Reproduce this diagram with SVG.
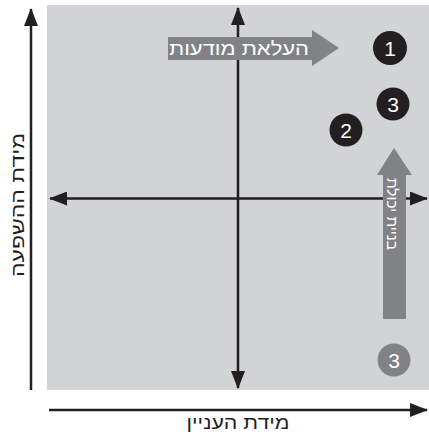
<svg xmlns="http://www.w3.org/2000/svg" width="429" height="439" viewBox="0 0 429 439">
<style>
.ax{stroke:#231f20;stroke-width:2.5;fill:none}
.lbl{font-family:"Liberation Sans","DejaVu Sans",sans-serif;fill:#231f20;text-anchor:middle}
.wt{font-family:"Liberation Sans","DejaVu Sans",sans-serif;fill:#ffffff;text-anchor:middle}
.garrow{fill:#808285}
.dot{fill:#231f20}
.gdot{fill:#808285}
</style>
<defs>
<marker id="ah" markerUnits="userSpaceOnUse" markerWidth="18" markerHeight="14" refX="17" refY="7" orient="auto-start-reverse" viewBox="0 0 18 14">
<path d="M0,0 L18,7 L0,14 Z" fill="#231f20"/>
</marker>
</defs>
<rect id="bg" x="47" y="5" width="382" height="385" fill="#d1d3d4"/>
<g id="connectors">
<line class="ax" x1="31" y1="390" x2="31" y2="9" marker-end="url(#ah)"/>
<line class="ax" x1="49" y1="410" x2="427" y2="410" marker-end="url(#ah)"/>
<line class="ax" x1="238" y1="8" x2="238" y2="388" marker-start="url(#ah)" marker-end="url(#ah)"/>
<line class="ax" x1="50" y1="198.5" x2="427" y2="198.5" marker-start="url(#ah)" marker-end="url(#ah)"/>
</g>
<g id="axis-labels">
<text class="lbl" x="238" y="429" font-size="18" textLength="103" lengthAdjust="spacingAndGlyphs">מידת העניין</text>
<text class="lbl" font-size="18" textLength="144" lengthAdjust="spacingAndGlyphs" transform="translate(24,205) rotate(-90)">מידת ההשפעה</text>
</g>
<g id="arrow-awareness">
<polygon class="garrow" points="168,37 312,37 312,30 339,48 312,66 312,60 168,60"/>
<text class="wt" x="239" y="55" font-size="19" textLength="140" lengthAdjust="spacingAndGlyphs">העלאת מודעות</text>
</g>
<g id="arrow-capacity">
<polygon class="garrow" points="383,319 383,175 377,175 394,148 412,175 406,175 406,319"/>
<text class="wt" font-size="15" textLength="72" lengthAdjust="spacingAndGlyphs" transform="translate(387,214) rotate(90)">בניית יכולת</text>
</g>
<g id="node-1">
<circle class="dot" cx="390" cy="48" r="17"/>
<text class="wt" x="390" y="55.5" font-size="21">1</text>
</g>
<g id="node-3">
<circle class="dot" cx="393" cy="104" r="16.5"/>
<text class="wt" x="393" y="111.5" font-size="21">3</text>
</g>
<g id="node-2">
<circle class="dot" cx="346" cy="130" r="16.5"/>
<text class="wt" x="346" y="137.5" font-size="21">2</text>
</g>
<g id="node-3-grey">
<circle class="gdot" cx="394" cy="360" r="16.5"/>
<text class="wt" x="394" y="367.5" font-size="21">3</text>
</g>
</svg>
